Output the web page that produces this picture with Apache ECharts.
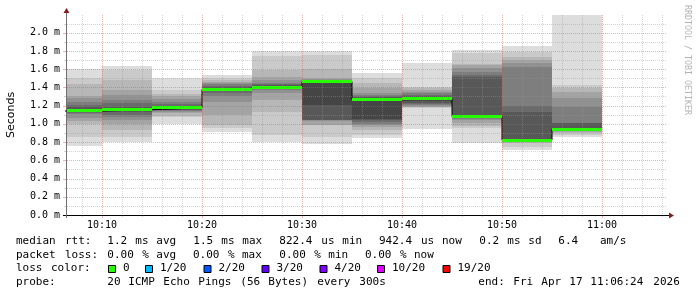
<!DOCTYPE html>
<html><head><meta charset="utf-8">
<script src="https://cdn.jsdelivr.net/npm/echarts@6/dist/echarts.min.js"></script>
<style>html,body{margin:0;padding:0;background:#fff}#c{width:697px;height:297px}</style>
</head><body><div id="c"></div>
<script>
// ---------- data (minutes after 10:00, values in ms) ----------
const bucketStarts = [5, 10, 15, 20, 25, 30, 35, 40, 45, 50, 55];
const bucketLength = 5;
const medians = [1.141, 1.155, 1.174, 1.379, 1.404, 1.463, 1.265, 1.273, 1.079, 0.822, 0.942];
const lossCounts = [0, 0, 0, 0, 0, 0, 0, 0, 0, 0, 0];
const pings = [
  [0.76, 0.86, 0.998, 1.035, 1.068, 1.105, 1.12, 1.13, 1.135, 1.138, 1.144, 1.16, 1.18, 1.207, 1.243, 1.28, 1.30, 1.434, 1.50, 1.598],
  [0.804, 0.86, 0.93, 1.0, 1.04, 1.07, 1.10, 1.127, 1.14, 1.15, 1.16, 1.175, 1.19, 1.225, 1.26, 1.316, 1.37, 1.48, 1.59, 1.635],
  [0.995, 1.07, 1.09, 1.115, 1.13, 1.14, 1.15, 1.155, 1.16, 1.17, 1.178, 1.19, 1.20, 1.215, 1.243, 1.27, 1.30, 1.33, 1.37, 1.506],
  [0.914, 0.958, 0.987, 1.097, 1.243, 1.30, 1.335, 1.355, 1.365, 1.37, 1.385, 1.395, 1.408, 1.42, 1.434, 1.45, 1.462, 1.48, 1.50, 1.536],
  [0.804, 0.878, 1.133, 1.26, 1.335, 1.37, 1.38, 1.39, 1.40, 1.405, 1.41, 1.42, 1.43, 1.44, 1.45, 1.48, 1.517, 1.59, 1.744, 1.80],
  [0.776, 0.86, 0.985, 0.99, 1.035, 1.038, 1.04, 1.042, 1.207, 1.45, 1.474, 1.476, 1.478, 1.48, 1.485, 1.49, 1.50, 1.598, 1.755, 1.80],
  [0.84, 0.878, 0.93, 0.96, 0.987, 1.00, 1.02, 1.042, 1.05, 1.25, 1.27, 1.28, 1.29, 1.30, 1.316, 1.335, 1.39, 1.445, 1.50, 1.554],
  [0.94, 1.17, 1.18, 1.188, 1.20, 1.207, 1.22, 1.232, 1.25, 1.265, 1.28, 1.29, 1.305, 1.32, 1.335, 1.35, 1.37, 1.39, 1.408, 1.671],
  [0.787, 0.95, 0.98, 1.006, 1.042, 1.055, 1.065, 1.07, 1.075, 1.078, 1.08, 1.085, 1.517, 1.536, 1.572, 1.609, 1.646, 1.66, 1.774, 1.81],
  [0.713, 0.75, 0.787, 0.80, 0.805, 0.808, 0.81, 0.812, 0.815, 0.818, 0.826, 0.83, 1.133, 1.196, 1.627, 1.664, 1.70, 1.737, 1.79, 1.854],
  [0.86, 0.88, 0.90, 0.915, 0.925, 0.93, 0.935, 0.937, 0.94, 0.941, 0.944, 0.95, 1.006, 1.01, 1.188, 1.28, 1.353, 1.39, 1.426, 2.194]
];
const xRange = [6.4, 66.4];
const xMajorTicks = [10, 20, 30, 40, 50, 60];
const xTickLabels = ['10:10', '10:20', '10:30', '10:40', '10:50', '11:00'];
const xMinorTicks = [8, 12, 14, 16, 18, 22, 24, 26, 28, 32, 34, 36, 38, 42, 44, 46, 48, 52, 54, 56, 58, 62, 64, 66];
const yTickValues = [0, 0.2, 0.4, 0.6, 0.8, 1.0, 1.2, 1.4, 1.6, 1.8, 2.0];
const yTickLabels = ['0.0 m', '0.2 m', '0.4 m', '0.6 m', '0.8 m', '1.0 m', '1.2 m', '1.4 m', '1.6 m', '1.8 m', '2.0 m'];
const yMinorTicks = [0.1, 0.3, 0.5, 0.7, 0.9, 1.1, 1.3, 1.5, 1.7, 1.9, 2.1];
const lossThresholds = [0, 1, 2, 3, 4, 10, 19];
const lossLabels = ['0', '1/20', '2/20', '3/20', '4/20', '10/20', '19/20'];
const lossColors = ['#26ff00', '#00b8ff', '#0059ff', '#5e00ff', '#7e00ff', '#dd00ff', '#ff0000'];
const rttTitle = 'median rtt:';
const rttItems = ['1.2 ms avg', '1.5 ms max', '822.4 us min', '942.4 us now', '0.2 ms sd', '6.4', 'am/s'];
const lossTitle = 'packet loss:';
const lossItems = ['0.00 % avg', '0.00 % max', '0.00 % min', '0.00 % now'];
const lossColorTitle = 'loss color:';
const probeTitle = 'probe:';
const probeText = '20 ICMP Echo Pings (56 Bytes) every 300s';
const endText = 'end: Fri Apr 17 11:06:24 2026';
const yAxisTitle = 'Seconds';
const watermark = 'RRDTOOL / TOBI OETIKER';

// ---------- styles / layout ----------
const GRID_C = 'rgba(150,150,150,0.42)';
const MGRID_C = 'rgba(222,79,79,0.45)';
const ARROW_C = 'rgb(128,31,31)';
const XAXIS_C = '#000000';
const YAXIS_C = '#707070';
const MONO = 'DejaVu Sans Mono';
const CW = 7.0;
const rttX = [107.3, 193.3, 279.3, 379, 479.3, 558.3, 600];
const lossX = [107.3, 193, 279.3, 365];
const legendBoxX = [108.5, 145.5, 204, 262, 320, 377.5, 443];
const rowY = [241, 255, 268.5, 282.5];

function smokeGrey(k) { const c = Math.floor(190 / 10 * (10 - k)) + 50; return 'rgb(' + c + ',' + c + ',' + c + ')'; }
function lossColor(n) { let c = lossColors[0]; lossThresholds.forEach((t, i) => { if (n >= t) c = lossColors[i]; }); return c; }

const graphics = [];
function words(str, x0, y) {
  const re = /\S+/g; let m;
  while ((m = re.exec(str))) {
    graphics.push({ type: 'text', x: x0 + m.index * CW, y: y, silent: true,
      style: { text: m[0], fontFamily: MONO, fontSize: 11, fill: '#000', verticalAlign: 'middle', align: 'left' } });
  }
}
words(rttTitle, 16, rowY[0]);
rttItems.forEach((s, i) => words(s, rttX[i], rowY[0]));
words(lossTitle, 16, rowY[1]);
lossItems.forEach((s, i) => words(s, lossX[i], rowY[1]));
words(lossColorTitle, 16, rowY[2]);
lossLabels.forEach((s, i) => {
  graphics.push({ type: 'rect', silent: true, shape: { x: legendBoxX[i], y: rowY[2] - 3, width: 7, height: 7 },
    style: { fill: lossColors[i], stroke: '#000', lineWidth: 1 } });
  words(s, legendBoxX[i] + 14.5, rowY[2]);
});
words(probeTitle, 16, rowY[3]);
words(probeText, 107.3, rowY[3]);
words(endText, 478.3, rowY[3]);
graphics.push({ type: 'text', x: 687.5, y: 5, rotation: -Math.PI / 2, silent: true,
  style: { text: watermark, fontFamily: MONO, fontSize: 8.3, fill: '#b4b4b4', verticalAlign: 'middle', align: 'left' } });

const yMax = Math.max.apply(null, pings.flat());
const chart = echarts.init(document.getElementById('c'), null, { renderer: 'canvas', width: 697, height: 297 });

function bucketEdges(params, api) {
  const cs = params.coordSys;
  const xa = Math.max(Math.round(api.coord([api.value(0), 0])[0]), Math.round(cs.x) + 1);
  const xb = Math.min(Math.round(api.coord([api.value(1), 0])[0]), Math.round(cs.x + cs.width));
  return [xa, xb];
}
function renderSmoke(params, api) {
  const e = bucketEdges(params, api);
  const p = pings[api.value(2)];
  const children = [];
  for (let k = 0; k < 10; k++) {
    const yhi = Math.round(api.coord([0, p[19 - k]])[1]);
    const ylo = Math.round(api.coord([0, p[k]])[1]);
    children.push({ type: 'rect', shape: { x: e[0], y: yhi, width: e[1] - e[0], height: Math.max(ylo - yhi, 0) },
      style: { fill: smokeGrey(k + 1) } });
  }
  return { type: 'group', children: children };
}
function renderMedian(params, api) {
  const e = bucketEdges(params, api);
  const i = api.value(2);
  const y = api.coord([0, medians[i]])[1];
  return { type: 'rect', shape: { x: e[0], y: Math.round(y - 1.5), width: e[1] - e[0], height: 3 },
    style: { fill: lossColor(lossCounts[i]) } };
}
function renderGrid(params, api) {
  const cs = params.coordSys;
  const top = cs.y, y0 = cs.y + cs.height, x0 = cs.x, right = cs.x + cs.width;
  const ch = [];
  const vline = (v, col, t2) => {
    const x = Math.round(api.coord([v, 0])[0]) + 0.5;
    ch.push({ type: 'line', shape: { x1: x, y1: top, x2: x, y2: y0 }, style: { stroke: col, lineWidth: 1, lineDash: [1, 1] } });
    ch.push({ type: 'line', shape: { x1: x, y1: y0 + 1, x2: x, y2: y0 + t2 }, style: { stroke: col, lineWidth: 1 } });
  };
  const hline = (v, col, t1) => {
    const y = Math.round(api.coord([xRange[0], v])[1]) + 0.5;
    ch.push({ type: 'line', shape: { x1: x0 + 1, y1: y, x2: right, y2: y }, style: { stroke: col, lineWidth: 1, lineDash: [1, 1] } });
    ch.push({ type: 'line', shape: { x1: x0 - t1, y1: y, x2: x0, y2: y }, style: { stroke: col, lineWidth: 1 } });
  };
  xMinorTicks.forEach(v => vline(v, GRID_C, 2));
  xMajorTicks.forEach(v => vline(v, MGRID_C, 3));
  yMinorTicks.forEach(v => hline(v, GRID_C, 2));
  yTickValues.slice(1).forEach(v => hline(v, MGRID_C, 3));
  // axis extensions and arrows
  const ax = Math.round(x0) + 0.5, ay = Math.round(y0) + 0.5;
  ch.push({ type: 'line', shape: { x1: ax, y1: top, x2: ax, y2: top - 3 }, style: { stroke: YAXIS_C, lineWidth: 1 } });
  ch.push({ type: 'line', shape: { x1: ax, y1: y0, x2: ax, y2: y0 + 3 }, style: { stroke: YAXIS_C, lineWidth: 1 } });
  ch.push({ type: 'line', shape: { x1: right, y1: ay, x2: right + 4, y2: ay }, style: { stroke: XAXIS_C, lineWidth: 1 } });
  ch.push({ type: 'line', shape: { x1: x0 - 3, y1: ay, x2: x0, y2: ay }, style: { stroke: XAXIS_C, lineWidth: 1 } });
  ch.push({ type: 'polygon', shape: { points: [[ax - 3, top - 2], [ax + 3, top - 2], [ax, top - 7]] }, style: { fill: ARROW_C } });
  ch.push({ type: 'polygon', shape: { points: [[right + 3, ay - 3], [right + 3, ay + 3], [right + 8, ay]] }, style: { fill: ARROW_C } });
  return { type: 'group', children: ch };
}

const bucketData = bucketStarts.map((s, i) => [s, s + bucketLength, i]);
const stepData = bucketStarts.map((s, i) => [s, medians[i]]);
stepData.push([bucketStarts[bucketStarts.length - 1] + bucketLength, medians[medians.length - 1]]);

chart.setOption({
  animation: false,
  backgroundColor: '#ffffff',
  textStyle: { fontFamily: MONO },
  grid: { left: 66, right: 31, top: 15, bottom: 82, outerBoundsMode: 'none' },
  xAxis: {
    type: 'value', min: xRange[0], max: xRange[1],
    axisLine: { show: true, onZero: false, lineStyle: { color: XAXIS_C, width: 1 } },
    axisTick: { show: false }, splitLine: { show: false },
    axisLabel: { customValues: xMajorTicks, showMinLabel: true, showMaxLabel: true, hideOverlap: false,
      formatter: v => { const i = xMajorTicks.findIndex(t => Math.abs(t - v) < 1e-6); return i >= 0 ? xTickLabels[i] : ''; },
      fontFamily: MONO, fontSize: 10, color: '#000', margin: 5 }
  },
  yAxis: {
    type: 'value', min: 0, max: yMax, interval: 0.2,
    axisLine: { show: true, lineStyle: { color: YAXIS_C, width: 1 } },
    axisTick: { show: false }, splitLine: { show: false },
    axisLabel: { formatter: v => { const i = yTickValues.findIndex(t => Math.abs(t - v) < 1e-6); return i >= 0 ? yTickLabels[i] : ''; },
      fontFamily: MONO, fontSize: 10, color: '#000', margin: 6 },
    name: yAxisTitle, nameLocation: 'middle', nameGap: 49, nameRotate: 90,
    nameTextStyle: { fontFamily: 'DejaVu Sans', fontSize: 11, color: '#000' }
  },
  series: [
    { type: 'custom', name: 'smoke', z: 2, silent: true, renderItem: renderSmoke, data: bucketData, encode: { x: [0, 1], y: 2 } },
    { type: 'line', name: 'median step', z: 3, silent: true, step: 'end', symbol: 'none', data: stepData,
      lineStyle: { color: '#000', width: 1 } },
    { type: 'custom', name: 'median', z: 4, silent: true, renderItem: renderMedian, data: bucketData, encode: { x: [0, 1], y: 2 } },
    { type: 'custom', name: 'grid', z: 5, silent: true, renderItem: renderGrid, data: [[xRange[0], 0]] }
  ],
  graphic: graphics
});
</script></body></html>
